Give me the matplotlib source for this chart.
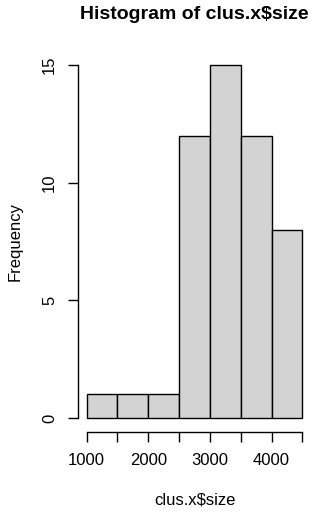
import matplotlib
matplotlib.use("Agg")
import matplotlib.pyplot as plt

# histogram of cluster sizes (counts)
bin_edges = [1000, 1500, 2000, 2500, 3000, 3500, 4000, 4500]
counts = [1, 1, 1, 12, 15, 12, 8]
x_tick_labels = ["1000", "", "2000", "", "3000", "", "4000", ""]
y_ticks = [0, 5, 10, 15]

plt.rcParams['font.family'] = ['Liberation Sans', 'DejaVu Sans']

fig = plt.figure(figsize=(3.22, 5.12), dpi=100)
ax = fig.add_axes([78 / 322, 1 - 432 / 512, 233 / 322, 381 / 512])

ax.hist(bin_edges[:-1], bins=bin_edges, weights=counts,
        color='#d3d3d3', edgecolor='black', linewidth=1.0)

ax.set_xlim(860, 4640)
ax.set_ylim(-0.6, 15.6)

for s in ('top', 'right'):
    ax.spines[s].set_visible(False)
ax.spines['left'].set_bounds(0, 15)
ax.spines['bottom'].set_bounds(1000, 4500)
ax.spines['left'].set_linewidth(1.0)
ax.spines['bottom'].set_linewidth(1.0)

ax.set_xticks(bin_edges)
ax.set_xticklabels(x_tick_labels)
ax.set_yticks(y_ticks)
ax.set_yticklabels([str(v) for v in y_ticks], rotation=90, va='center')
ax.tick_params(axis='both', length=7, width=1.0, labelsize=12, pad=8)

ax.set_xlabel("clus.x$size", fontsize=12, labelpad=18)
ax.set_ylabel("Frequency", fontsize=12, labelpad=14)
fig.suptitle("Histogram of clus.x$size", fontsize=14, fontweight='bold',
             x=0.602, y=0.988)

fig.savefig("out.png", dpi=100)
